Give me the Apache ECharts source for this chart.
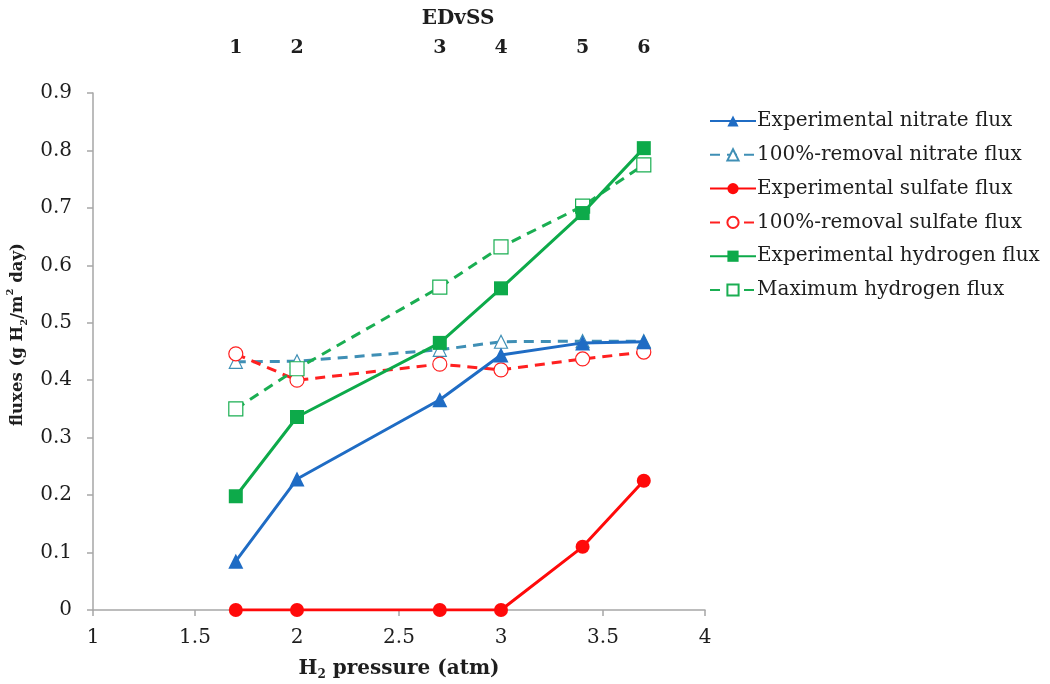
<!DOCTYPE html>
<html>
<head>
<meta charset="utf-8">
<script src="https://cdn.jsdelivr.net/npm/echarts@6/dist/echarts.min.js"></script>
<style>
  html, body { margin: 0; padding: 0; background: #fff; }
  #chart { width: 1050px; height: 684px; }
</style>
</head>
<body>
<div id="chart"></div>
<script>
// H2 pressure (atm) for each run
const pressure = [1.7, 2, 2.7, 3, 3.4, 3.7];
// EDvSS run numbers shown along the top
const edvssLabels = ['1', '2', '3', '4', '5', '6'];

// fluxes, g H2/m2 day
const expNitrate     = [0.085, 0.228, 0.366, 0.444, 0.465, 0.467];
const fullNitrate    = [0.432, 0.433, 0.453, 0.467, 0.468, 0.468];
const expSulfate     = [0, 0, 0, 0, 0.110, 0.225];
const fullSulfate    = [0.446, 0.400, 0.428, 0.418, 0.437, 0.449];
const expHydrogen    = [0.198, 0.336, 0.465, 0.560, 0.691, 0.804];
const maxHydrogen    = [0.350, 0.420, 0.562, 0.632, 0.703, 0.775];

const seriesNames = [
  'Experimental nitrate flux',
  '100%-removal nitrate flux',
  'Experimental sulfate flux',
  '100%-removal sulfate flux',
  'Experimental hydrogen flux',
  'Maximum hydrogen flux'
];

const FONT = '"DejaVu Serif", "Liberation Serif", serif';
const TEXT = '#1e1e1e';
const pair = (ys) => pressure.map((x, i) => [x, ys[i]]);

function lineSeries(name, ys, color, opts) {
  return {
    name: name,
    type: 'line',
    xAxisIndex: 0,
    data: pair(ys),
    symbol: opts.symbol,
    symbolSize: opts.size,
    showAllSymbol: true,
    lineStyle: { color: color, width: 3, type: opts.dashed ? [10, 7] : 'solid' },
    itemStyle: {
      color: opts.hollow ? '#fff' : color,
      borderColor: color,
      borderWidth: opts.hollow ? 1.2 : 0
    },
    emphasis: { disabled: true },
    z: opts.z
  };
}

const chart = echarts.init(document.getElementById('chart'), null, { renderer: 'canvas' });

const boldRich = (size) => ({
  b: { fontFamily: FONT, fontSize: size, fontWeight: 'bold', color: TEXT, lineHeight: 24, verticalAlign: 'middle' },
  s: { fontFamily: FONT, fontSize: Math.round(size * 0.62), fontWeight: 'bold', color: TEXT, lineHeight: 24, verticalAlign: 'bottom' },
  p: { fontFamily: FONT, fontSize: Math.round(size * 0.62), fontWeight: 'bold', color: TEXT, lineHeight: 24, verticalAlign: 'top' }
});

const option = {
  backgroundColor: '#ffffff',
  animation: false,
  textStyle: { fontFamily: FONT },
  grid: { left: 93, right: 345, top: 93, bottom: 74, containLabel: false, outerBoundsMode: 'none' },
  graphic: [{
    type: 'text',
    x: 458,
    y: 19,
    style: {
      text: 'EDvSS',
      font: 'bold 20px ' + FONT,
      fill: TEXT,
      textAlign: 'center',
      textVerticalAlign: 'middle'
    }
  }],
  legend: {
    orient: 'vertical',
    left: 704,
    top: 106,
    itemWidth: 46,
    itemHeight: 14,
    itemGap: 13.8,
    data: seriesNames,
    textStyle: { fontFamily: FONT, fontSize: 20, color: TEXT, padding: [0, 0, 0, -4] },
    selectedMode: false
  },
  xAxis: [{
    type: 'value',
    min: 1,
    max: 4,
    interval: 0.5,
    name: '{b|H}{s|2}{b| pressure (atm)}',
    nameLocation: 'middle',
    nameGap: 47,
    nameTextStyle: { rich: boldRich(20) },
    axisLine: { lineStyle: { color: '#a6a6a6', width: 1.5 } },
    axisTick: { show: true, inside: false, length: 6, lineStyle: { color: '#a6a6a6', width: 1.5 } },
    axisLabel: { fontFamily: FONT, fontSize: 20, color: TEXT, margin: 18 },
    splitLine: { show: false }
  }, {
    type: 'value',
    position: 'top',
    min: 1,
    max: 4,
    axisLine: { show: false },
    axisTick: { show: false },
    splitLine: { show: false },
    axisLabel: {
      customValues: pressure,
      formatter: (v) => {
        const idx = pressure.findIndex((p) => Math.abs(p - v) < 1e-6);
        return idx >= 0 ? edvssLabels[idx] : '';
      },
      fontFamily: FONT,
      fontSize: 19,
      fontWeight: 'bold',
      color: TEXT,
      margin: 35
    }
  }],
  yAxis: {
    type: 'value',
    min: 0,
    max: 0.9,
    interval: 0.1,
    name: '{b|fluxes (g H}{s|2}{b|/m}{p|2}{b| day)}',
    nameLocation: 'middle',
    nameGap: 55,
    nameRotate: 90,
    nameTextStyle: { rich: boldRich(16.5), padding: [0, 0, 0, 34] },
    axisLine: { show: true, lineStyle: { color: '#a6a6a6', width: 1.5 } },
    axisTick: { show: true, inside: false, length: 6, lineStyle: { color: '#a6a6a6', width: 1.5 } },
    axisLabel: {
      fontFamily: FONT, fontSize: 20, color: TEXT, margin: 21,
      formatter: (v) => (v === 0 ? '0' : v.toFixed(1))
    },
    splitLine: { show: false }
  },
  series: [
    lineSeries(seriesNames[0], expNitrate, '#1f6cc4', { symbol: 'triangle', size: 15, z: 3 }),
    lineSeries(seriesNames[1], fullNitrate, '#3f8fb5', { symbol: 'triangle', size: 13, hollow: true, dashed: true, z: 2 }),
    lineSeries(seriesNames[2], expSulfate, '#ff0a0a', { symbol: 'circle', size: 14, z: 3 }),
    lineSeries(seriesNames[3], fullSulfate, '#ff2020', { symbol: 'circle', size: 14, hollow: true, dashed: true, z: 2 }),
    lineSeries(seriesNames[4], expHydrogen, '#0daa4a', { symbol: 'rect', size: 14, z: 3 }),
    lineSeries(seriesNames[5], maxHydrogen, '#1aae52', { symbol: 'rect', size: 14, hollow: true, dashed: true, z: 2 })
  ]
};

chart.setOption(option);
</script>
</body>
</html>
